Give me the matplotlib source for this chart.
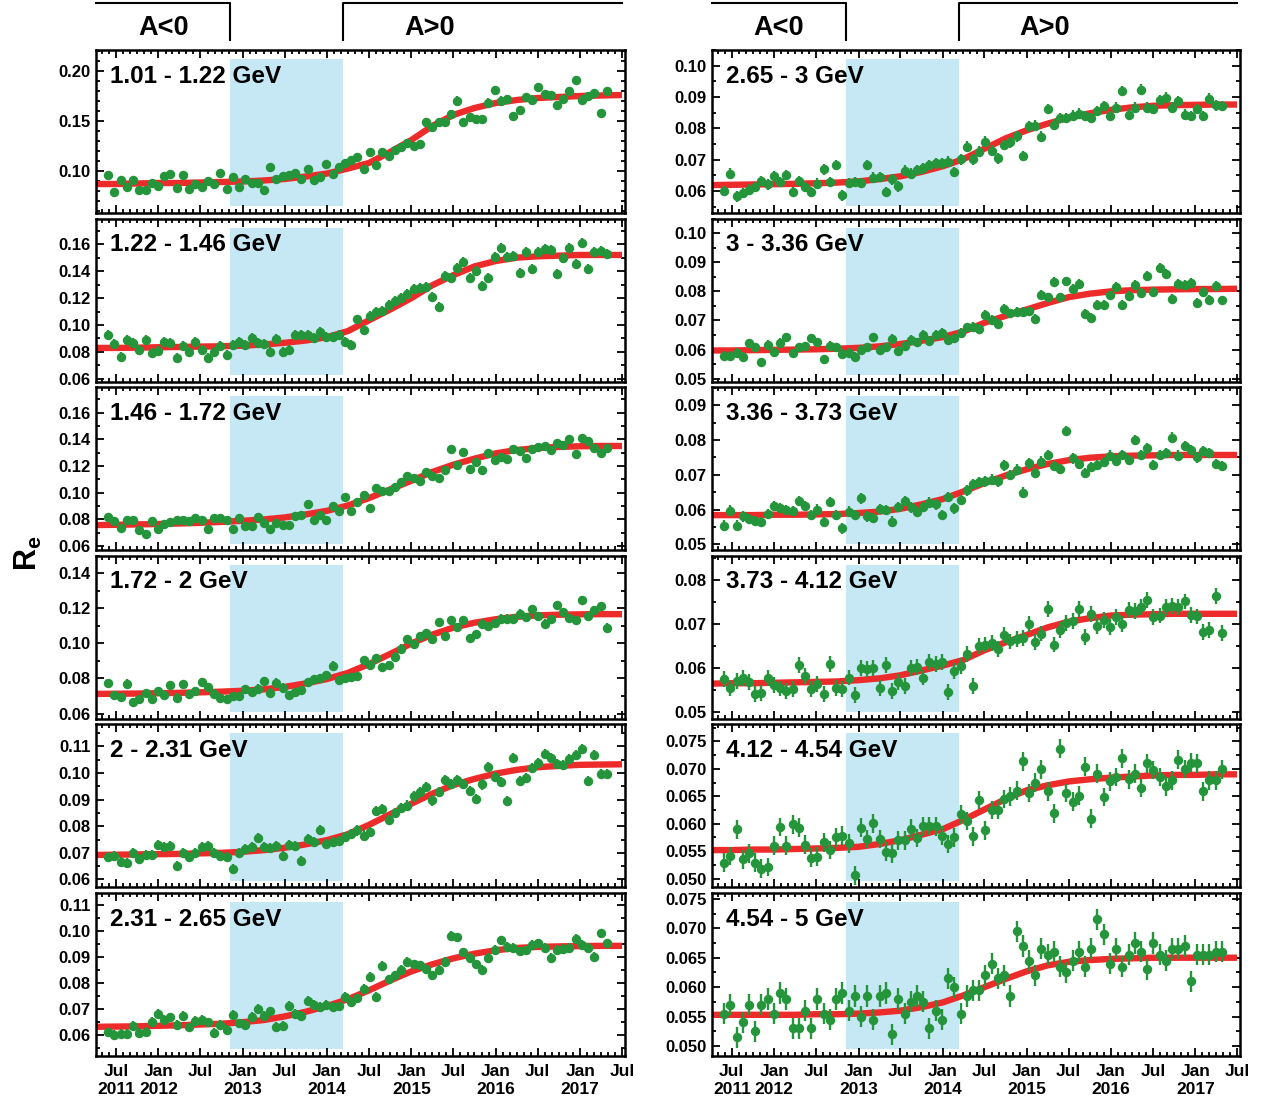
import matplotlib
matplotlib.use("Agg")
import matplotlib.pyplot as plt
import matplotlib.dates as mdates
import matplotlib.transforms as mtransforms
import numpy as np
import pandas as pd
from datetime import datetime, timedelta
from matplotlib.ticker import MultipleLocator, FormatStrFormatter, FuncFormatter

plt.rcParams["font.family"] = ["Liberation Sans", "DejaVu Sans"]
plt.rcParams["font.weight"] = "bold"
plt.rcParams["mathtext.fontset"] = "custom"
plt.rcParams["mathtext.rm"] = "Liberation Sans:bold"
plt.rcParams["mathtext.it"] = "Liberation Sans:bold"
plt.rcParams["mathtext.bf"] = "Liberation Sans:bold"

# ---------------- data ----------------
# Bartels rotations (27 days each) covered by the measurement
bartels = list(range(2426, 2507))
# start / end of the solar polarity reversal period (shaded)
reversal = (datetime(2012, 11, 7), datetime(2014, 3, 12))
# fit curve knots: first day of each quarter, Apr 2011 .. Jul 2017
fit_dates = pd.date_range("2011-04-01", "2017-07-01", freq="QS")

energy_bins = ["1.01 - 1.22 GeV", "1.22 - 1.46 GeV", "1.46 - 1.72 GeV",
               "1.72 - 2 GeV", "2 - 2.31 GeV", "2.31 - 2.65 GeV",
               "2.65 - 3 GeV", "3 - 3.36 GeV", "3.36 - 3.73 GeV",
               "3.73 - 4.12 GeV", "4.12 - 4.54 GeV", "4.54 - 5 GeV"]

re_1 = [.096, .079, .091, .084, .091, .081, .081, .088, .085, .095,
        .097, .083, .096, .082, .087, .084, .090, .087, .098, .082,
        .094, .084, .092, .088, .088, .081, .104, .092, .095, .096,
        .098, .092, .102, .091, .094, .107, .097, .104, .108, .111,
        .114, .102, .119, .106, .119, .115, .121, .124,
        .128, .125, .127, .149, .144, .149, .149, .157, .170, .149,
        .154, .152, .152, .168, .181, .170, .172, .155, .161, .174,
        .171, .184, .177, .176, .166, .172, .180, .191, .171, .175,
        .178, .158, .180]
re_2 = [.0929, .0862, .0760, .0887, .0867, .0815, .0887, .0793, .0810, .0874,
        .0869, .0755, .0842, .0798, .0872, .0812, .0758, .0798, .0842, .0780,
        .0852, .0874, .0852, .0904, .0867, .0860, .0800, .0897, .0800, .0812,
        .0924, .0927, .0927, .0902, .0951, .0912, .0912, .0927, .0874, .0855,
        .1041, .0964, .1066, .1098, .1103, .1152, .1180, .1200,
        .1232, .1270, .1277, .1284, .1209, .1135, .1363, .1346, .1425, .1467,
        .1348, .1400, .1289, .1351, .1507, .1572, .1507, .1512, .1388, .1542,
        .1413, .1542, .1562, .1554, .1376, .1500, .1574, .1450, .1611, .1413,
        .1544, .1549, .1529]
re_3 = [.0817, .0788, .0738, .0793, .0798, .0718, .0688, .0788, .0726, .0768,
        .0780, .0798, .0798, .0788, .0810, .0798, .0731, .0810, .0810, .0793,
        .0726, .0812, .0748, .0748, .0822, .0773, .0726, .0773, .0755, .0755,
        .0827, .0830, .0917, .0793, .0835, .0793, .0904, .0862, .0971, .0862,
        .0929, .0984, .0887, .1036, .1016, .1011, .1040, .1080,
        .1123, .1108, .1090, .1152, .1128, .1110, .1170, .1331, .1209, .1306,
        .1177, .1227, .1170, .1294, .1244, .1269, .1252, .1326, .1314, .1259,
        .1331, .1343, .1351, .1319, .1376, .1356, .1405, .1289, .1413, .1388,
        .1338, .1301, .1338]
re_4 = [.0773, .0704, .0696, .0771, .0666, .0681, .0716, .0681, .0729, .0704,
        .0762, .0691, .0767, .0710, .0729, .0781, .0752, .0714, .0687, .0681,
        .0700, .0700, .0739, .0723, .0742, .0785, .0719, .0777, .0748, .0704,
        .0723, .0735, .0781, .0796, .0800, .0821, .0873, .0792, .0800, .0806,
        .0812, .0907, .0877, .0915, .0863, .0877, .0925, .0970,
        .1023, .0994, .1042, .1061, .1023, .1122, .1042, .1132, .1094, .1132,
        .1030, .1055, .1113, .1099, .1118, .1142, .1142, .1142, .1170, .1151,
        .1195, .1157, .1113, .1138, .1218, .1180, .1145, .1132, .1247, .1155,
        .1189, .1214, .1090]
re_5 = [.0683, .0687, .0667, .0662, .0699, .0677, .0693, .0693, .0730, .0721,
        .0727, .0652, .0699, .0686, .0698, .0721, .0727, .0698, .0689, .0683,
        .0639, .0698, .0714, .0721, .0756, .0721, .0718, .0727, .0689, .0731,
        .0727, .0670, .0752, .0740, .0786, .0733, .0740, .0746, .0758, .0771,
        .0784, .0765, .0777, .0857, .0865, .0824, .0850, .0870,
        .0878, .0912, .0928, .0947, .0897, .0928, .0975, .0960, .0975, .0960,
        .0931, .0901, .0957, .1023, .0985, .0966, .0894, .1058, .0970, .0982,
        .1020, .1039, .1073, .1058, .1035, .1031, .1052, .1067, .1089, .0970,
        .1067, .0997, .0995]
re_6 = [.0611, .0601, .0605, .0605, .0636, .0610, .0614, .0652, .0683, .0660,
        .0668, .0639, .0673, .0630, .0654, .0658, .0649, .0608, .0639, .0620,
        .0679, .0645, .0639, .0670, .0702, .0674, .0692, .0633, .0636, .0712,
        .0683, .0674, .0733, .0717, .0708, .0717, .0708, .0711, .0746, .0727,
        .0742, .0777, .0825, .0746, .0865, .0815, .0830, .0850,
        .0881, .0872, .0868, .0853, .0830, .0850, .0881, .0981, .0976, .0918,
        .0897, .0872, .0850, .0897, .0928, .0964, .0938, .0935, .0922, .0926,
        .0947, .0953, .0935, .0897, .0928, .0931, .0935, .0969, .0947, .0935,
        .0901, .0991, .0953]
re_7 = [.0600, .0656, .0583, .0594, .0604, .0613, .0632, .0621, .0647, .0629,
        .0651, .0597, .0632, .0613, .0597, .0624, .0669, .0629, .0683, .0586,
        .0626, .0629, .0626, .0683, .0643, .0645, .0597, .0637, .0615, .0665,
        .0656, .0667, .0672, .0683, .0688, .0688, .0694, .0661, .0701, .0742,
        .0701, .0726, .0758, .0729, .0704, .0747, .0755, .0775,
        .0712, .0806, .0809, .0774, .0862, .0812, .0833, .0833, .0841, .0847,
        .0839, .0833, .0855, .0871, .0839, .0866, .0919, .0844, .0866, .0923,
        .0866, .0862, .0890, .0898, .0866, .0887, .0844, .0839, .0862, .0839,
        .0895, .0873, .0871]
re_8 = [.0579, .0579, .0588, .0576, .0621, .0608, .0556, .0616, .0590, .0623,
        .0642, .0587, .0608, .0611, .0639, .0625, .0567, .0613, .0608, .0585,
        .0588, .0576, .0600, .0608, .0642, .0600, .0608, .0636, .0596, .0613,
        .0634, .0625, .0651, .0631, .0651, .0657, .0634, .0639, .0657, .0677,
        .0679, .0671, .0719, .0702, .0688, .0740, .0725, .0730,
        .0729, .0731, .0706, .0788, .0780, .0832, .0780, .0835, .0809, .0826,
        .0723, .0708, .0754, .0754, .0786, .0815, .0754, .0784, .0823, .0795,
        .0853, .0798, .0881, .0861, .0775, .0826, .0823, .0829, .0761, .0798,
        .0772, .0818, .0769]
re_9 = [.0554, .0597, .0554, .0580, .0573, .0567, .0564, .0587, .0610, .0605,
        .0599, .0596, .0624, .0610, .0584, .0600, .0564, .0622, .0584, .0546,
        .0594, .0584, .0632, .0580, .0575, .0601, .0599, .0565, .0608, .0624,
        .0606, .0594, .0608, .0620, .0615, .0584, .0636, .0603, .0627, .0655,
        .0674, .0679, .0681, .0686, .0681, .0727, .0700, .0715,
        .0649, .0733, .0705, .0738, .0757, .0725, .0717, .0826, .0747, .0731,
        .0705, .0722, .0728, .0736, .0755, .0741, .0757, .0743, .0800, .0757,
        .0776, .0728, .0757, .0762, .0807, .0755, .0783, .0771, .0750, .0769,
        .0763, .0731, .0725]
re_10 = [.0574, .0553, .0570, .0576, .0567, .0540, .0543, .0576, .0561, .0553,
         .0548, .0552, .0607, .0582, .0552, .0563, .0540, .0608, .0555, .0552,
         .0578, .0538, .0600, .0597, .0600, .0555, .0606, .0548, .0568, .0559,
         .0600, .0602, .0578, .0613, .0608, .0613, .0545, .0593, .0604, .0631,
         .0559, .0650, .0653, .0657, .0642, .0674, .0660, .0665,
         .0668, .0700, .0659, .0678, .0734, .0653, .0687, .0702, .0706, .0734,
         .0671, .0723, .0695, .0708, .0693, .0716, .0700, .0731, .0729, .0738,
         .0755, .0716, .0719, .0738, .0741, .0738, .0751, .0721, .0717, .0681,
         .0687, .0764, .0680]
re_11 = [.0529, .0541, .0590, .0535, .0546, .0529, .0518, .0521, .0560, .0594,
         .0560, .0599, .0593, .0562, .0538, .0540, .0566, .0552, .0575, .0578,
         .0564, .0506, .0593, .0572, .0601, .0572, .0549, .0546, .0570, .0570,
         .0591, .0574, .0595, .0596, .0595, .0578, .0563, .0575, .0617, .0605,
         .0577, .0643, .0588, .0625, .0625, .0645, .0650, .0660,
         .0714, .0656, .0675, .0699, .0659, .0619, .0737, .0656, .0640, .0651,
         .0704, .0609, .0691, .0649, .0677, .0685, .0719, .0681, .0691, .0665,
         .0710, .0698, .0685, .0668, .0679, .0717, .0700, .0711, .0710, .0659,
         .0679, .0679, .0699]
re_12 = [.0555, .0570, .0515, .0540, .0570, .0525, .0570, .0580, .0555, .0590,
         .0580, .0530, .0530, .0560, .0530, .0580, .0555, .0545, .0580, .0590,
         .0560, .0585, .0550, .0585, .0545, .0585, .0590, .0520, .0580, .0555,
         .0575, .0585, .0575, .0530, .0560, .0545, .0615, .0600, .0555, .0585,
         .0595, .0595, .0620, .0640, .0615, .0620, .0585, .0695,
         .0670, .0645, .0620, .0665, .0655, .0660, .0635, .0625, .0645, .0660,
         .0635, .0665, .0715, .0690, .0640, .0665, .0635, .0655, .0675, .0660,
         .0630, .0675, .0655, .0645, .0665, .0665, .0670, .0610, .0655, .0655,
         .0655, .0660, .0660]

fit_1 = [.0870, .0870, .0875, .0880, .0880, .0885, .0890, .0895, .0905, .0920, .0945, .0975, .1025,
         .1080, .1190, .1310, .1450, .1560, .1630, .1680, .1710, .1730, .1740, .1750, .1755, .1760]
fit_2 = [.0830, .0830, .0832, .0835, .0837, .0840, .0842, .0847, .0855, .0868, .0885, .0910, .0955,
         .1035, .1115, .1200, .1295, .1370, .1435, .1475, .1500, .1510, .1515, .1520, .1520, .1520]
fit_3 = [.0758, .0760, .0763, .0766, .0770, .0775, .0782, .0790, .0800, .0815, .0838, .0865, .0905,
         .0960, .1025, .1090, .1155, .1210, .1255, .1295, .1320, .1335, .1343, .1348, .1350, .1350]
fit_4 = [.0712, .0713, .0714, .0716, .0718, .0721, .0725, .0730, .0738, .0752, .0772, .0797, .0832,
         .0882, .0940, .1000, .1050, .1090, .1118, .1138, .1152, .1160, .1164, .1166, .1167, .1167]
fit_5 = [.0692, .0693, .0694, .0695, .0696, .0698, .0700, .0704, .0710, .0719, .0732, .0748, .0770,
         .0805, .0845, .0885, .0922, .0955, .0978, .0998, .1012, .1022, .1027, .1031, .1032, .1033]
fit_6 = [.0632, .0633, .0634, .0636, .0638, .0641, .0644, .0650, .0658, .0672, .0690, .0712, .0738,
         .0772, .0810, .0845, .0872, .0895, .0913, .0926, .0935, .0939, .0941, .0942, .0943, .0943]
fit_7 = [.0619, .0620, .0621, .0622, .0623, .0625, .0627, .0631, .0638, .0647, .0661, .0679, .0702,
         .0735, .0768, .0794, .0815, .0834, .0848, .0859, .0867, .0872, .0874, .0875, .0876, .0876]
fit_8 = [.0597, .0597, .0598, .0599, .0600, .0601, .0603, .0606, .0611, .0619, .0630, .0643, .0662,
         .0692, .0716, .0738, .0760, .0780, .0792, .0800, .0804, .0806, .0807, .0808, .0808, .0809]
fit_9 = [.0584, .0584, .0584, .0585, .0585, .0586, .0587, .0590, .0594, .0602, .0615, .0630, .0652,
         .0676, .0698, .0716, .0731, .0742, .0749, .0753, .0755, .0756, .0757, .0757, .0757, .0757]
fit_10 = [.0564, .0565, .0565, .0566, .0567, .0568, .0569, .0572, .0576, .0583, .0594, .0605, .0618,
          .0640, .0658, .0675, .0692, .0705, .0713, .0719, .0721, .0722, .0723, .0723, .0723, .0723]
fit_11 = [.0552, .0552, .0553, .0553, .0554, .0555, .0556, .0558, .0563, .0570, .0580, .0590, .0607,
          .0626, .0645, .0661, .0670, .0677, .0681, .0684, .0686, .0688, .0689, .0689, .0690, .0690]
fit_12 = [.0553, .0553, .0553, .0553, .0553, .0554, .0554, .0555, .0557, .0560, .0566, .0574, .0586,
          .0600, .0614, .0627, .0637, .0643, .0646, .0648, .0649, .0650, .0650, .0650, .0650, .0650]

# typical error on each point, per energy bin
errors = [0.0045, 0.0037, 0.0030, 0.0024, 0.0019, 0.0018,
          0.0017, 0.0016, 0.0015, 0.0018, 0.0017, 0.0018]

ratios = [re_1, re_2, re_3, re_4, re_5, re_6, re_7, re_8, re_9, re_10, re_11, re_12]
fits = [fit_1, fit_2, fit_3, fit_4, fit_5, fit_6, fit_7, fit_8, fit_9, fit_10, fit_11, fit_12]

# axis ranges and tick spacing per panel
ylims = [(0.058, 0.221), (0.058, 0.179), (0.057, 0.179), (0.057, 0.150), (0.057, 0.1183), (0.052, 0.1146),
         (0.053, 0.105), (0.049, 0.105), (0.0483, 0.0952), (0.0484, 0.0855), (0.0484, 0.0781), (0.0483, 0.076)]
ysteps = [0.05, 0.02, 0.02, 0.02, 0.01, 0.01, 0.01, 0.01, 0.01, 0.01, 0.005, 0.005]
yfmt = ["%.2f"] * 10 + ["%.3f"] * 2

# ---------------- plotting ----------------
epoch = datetime(1832, 2, 8)  # start of Bartels rotation 1
times = [epoch + timedelta(days=(b - 1) * 27 + 13.5) for b in bartels]
x_pts = mdates.date2num(times)
x_fit = mdates.date2num(fit_dates.to_pydatetime())
x_lo = mdates.date2num(datetime(2011, 4, 6))
x_hi = mdates.date2num(datetime(2017, 7, 14))

W, H = 1261, 1103
fig = plt.figure(figsize=(W / 100, H / 100), dpi=100)

green = "#25953b"
red = "#ee2b2b"
blue = "#c6e8f5"


def date_label(x, pos):
    d = mdates.num2date(x)
    if d.month == 1:
        return "Jan\n%d" % d.year
    if d.year == 2011:
        return "Jul\n2011"
    return "Jul"


axes = []
for i in range(12):
    col, row = divmod(i, 6)
    left = (96 if col == 0 else 712) / W
    width = (529 if col == 0 else 528) / W
    top = 50 + 168.6 * row
    ax = fig.add_axes([left, 1 - (top + 163) / H, width, 163 / H])
    axes.append(ax)

    ax.axvspan(mdates.date2num(reversal[0]), mdates.date2num(reversal[1]),
               ymin=0.04, ymax=0.945, color=blue, lw=0, zorder=0)
    ax.plot(x_fit, fits[i], color=red, lw=4.6, solid_capstyle="butt", zorder=2)
    ax.errorbar(x_pts, ratios[i], yerr=errors[i], fmt="o", ms=6.8, color=green,
                ecolor=green, elinewidth=1.7, capsize=0, mew=0, zorder=3)

    ax.set_xlim(x_lo, x_hi)
    ax.set_ylim(*ylims[i])
    ax.yaxis.set_major_locator(MultipleLocator(ysteps[i]))
    ax.yaxis.set_minor_locator(MultipleLocator(ysteps[i] / (5 if i == 0 else 2)))
    ax.yaxis.set_major_formatter(FormatStrFormatter(yfmt[i]))
    ax.xaxis.set_major_locator(mdates.MonthLocator(bymonth=[1, 7]))
    ax.xaxis.set_minor_locator(mdates.MonthLocator())
    ax.xaxis.set_major_formatter(FuncFormatter(date_label))
    ax.tick_params(which="both", direction="in", top=True, right=True, width=1.3)
    ax.tick_params(which="major", length=6, labelsize=12, pad=4)
    ax.tick_params(which="minor", length=3)
    ax.tick_params(axis="x", labelsize=12.5, pad=6)
    if row != 5:
        ax.tick_params(axis="x", labelbottom=False)
    for lab in ax.get_xticklabels() + ax.get_yticklabels():
        lab.set_fontweight("bold")
    for s in ax.spines.values():
        s.set_linewidth(1.8)

    ax.text(0.027, 0.84, energy_bins[i], transform=ax.transAxes, fontsize=17.5,
            fontweight="bold", va="center", ha="left", zorder=5)

# polarity headers above the two top panels
for ax in (axes[0], axes[6]):
    tr = mtransforms.blended_transform_factory(ax.transData, ax.transAxes)
    r0 = mdates.date2num(reversal[0])
    r1 = mdates.date2num(reversal[1])
    x_end = mdates.date2num(datetime(2017, 7, 1))
    ax.plot([x_lo, r0, r0], [1.288, 1.288, 1.061], color="black", lw=1.5,
            transform=tr, clip_on=False)
    ax.plot([r1, r1, x_end], [1.061, 1.288, 1.288], color="black", lw=1.5,
            transform=tr, clip_on=False)
    ax.text(0.127, 1.135, "A<0", transform=ax.transAxes, ha="center", va="center",
            fontsize=19.5, fontweight="bold")
    ax.text(0.63, 1.135, "A>0", transform=ax.transAxes, ha="center", va="center",
            fontsize=19.5, fontweight="bold")

fig.text(28 / W, 1 - 553 / H, r"$\mathbf{R_e}$", rotation=90, ha="center",
         va="center", fontsize=22)

fig.savefig("out.png", dpi=100)
